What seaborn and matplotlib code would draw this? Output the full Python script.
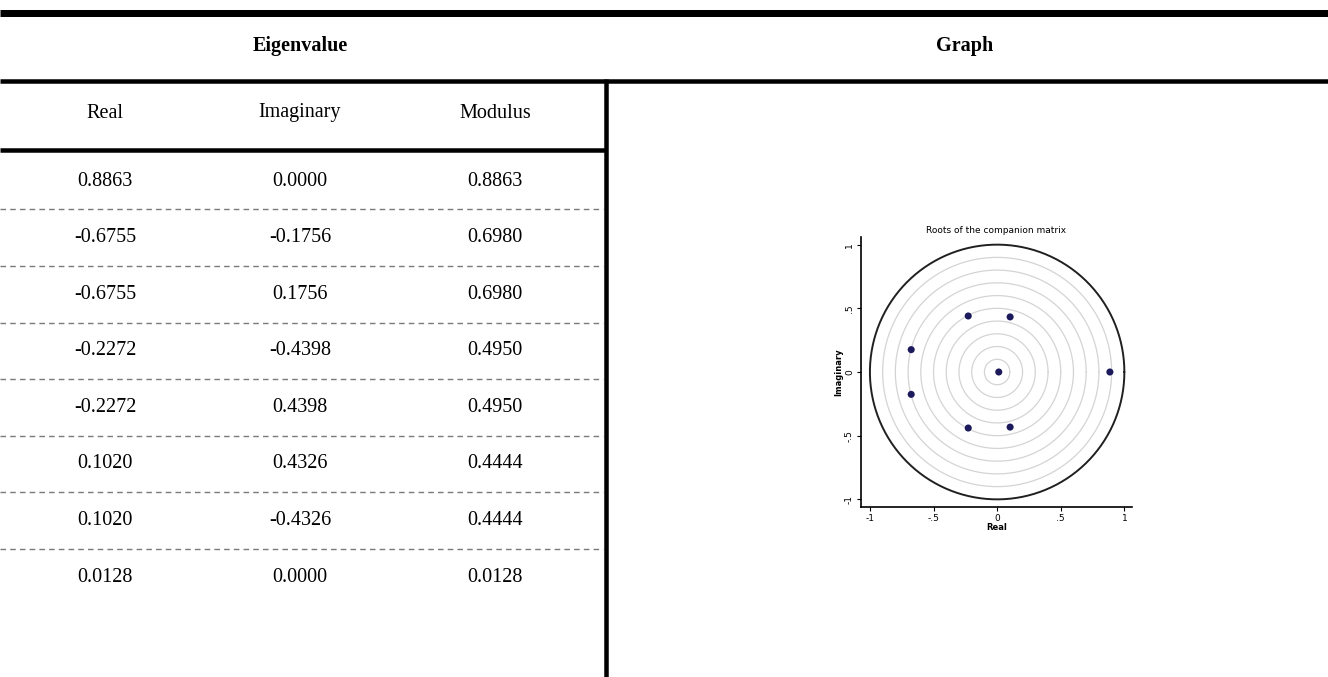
import numpy as np
import pandas as pd
import matplotlib
matplotlib.use("Agg")
import matplotlib.pyplot as plt
import seaborn as sns

# ---------------------------
# Data
# ---------------------------
real_part = [0.8863, -0.6755, -0.6755, -0.2272, -0.2272, 0.1020, 0.1020, 0.0128]
imag_part = [0.0000, -0.1756, 0.1756, -0.4398, 0.4398, 0.4326, -0.4326, 0.0000]
modulus = [0.8863, 0.6980, 0.6980, 0.4950, 0.4950, 0.4444, 0.4444, 0.0128]
col_headers = ["Real", "Imaginary", "Modulus"]
tick_vals = [-1, -0.5, 0, 0.5, 1]
tick_labels = ["-1", "-.5", "0", ".5", "1"]
grid_radii = [0.1, 0.2, 0.3, 0.4, 0.5, 0.6, 0.7, 0.8, 0.9]

df = pd.DataFrame({"Real": real_part, "Imaginary": imag_part, "Modulus": modulus})

sns.set_style("white")
plt.rcParams["font.family"] = ["Liberation Serif", "DejaVu Serif"]
plt.rcParams["text.color"] = "black"
plt.rcParams["axes.labelcolor"] = "black"
plt.rcParams["xtick.color"] = "black"
plt.rcParams["ytick.color"] = "black"

W, H = 1328, 677
fig = plt.figure(figsize=(W / 100, H / 100), dpi=100)

# ---------------------------
# Table layer (pixel coordinates)
# ---------------------------
tab = fig.add_axes([0, 0, 1, 1])
tab.set_xlim(0, W)
tab.set_ylim(H, 0)
tab.axis("off")

px = 0.72  # points per pixel at dpi 100
tab.plot([0, W], [12.5, 12.5], color="black", lw=7 * px, solid_capstyle="butt")
tab.plot([0, W], [81, 81], color="black", lw=4.5 * px, solid_capstyle="butt")
tab.plot([0, 606], [150, 150], color="black", lw=4.5 * px, solid_capstyle="butt")
tab.plot([606, 606], [79, H], color="black", lw=4.5 * px, solid_capstyle="butt")

tab.text(300, 46, "Eigenvalue", ha="center", va="center", fontsize=14.5, fontweight="bold")
tab.text(965, 46, "Graph", ha="center", va="center", fontsize=14.5, fontweight="bold")

col_x = [105, 300, 495]
for x, h in zip(col_x, col_headers):
    tab.text(x, 113, h, ha="center", va="center", fontsize=14.5)

row_y0, row_step = 181, 56.6
for i in range(len(df)):
    y = row_y0 + i * row_step
    for x, c in zip(col_x, col_headers):
        tab.text(x, y, f"{df[c].iloc[i]:.4f}", ha="center", va="center", fontsize=14.5)
    if i < len(df) - 1:
        yd = y + row_step / 2
        tab.plot([0, 603], [yd, yd], color="#7a7a7a", lw=1.0, ls=(0, (4, 3)))

# ---------------------------
# Embedded graph
# ---------------------------
ax = fig.add_axes([861 / W, 1 - 507 / H, 271 / W, 270 / H])
theta = np.linspace(0, 2 * np.pi, 400)
for r in grid_radii:
    ax.plot(r * np.cos(theta), r * np.sin(theta), color="#d4d4d4", lw=0.9, zorder=1)
ax.plot(np.cos(theta), np.sin(theta), color="#202020", lw=1.4, zorder=2)

sns.scatterplot(data=df, x="Real", y="Imaginary", ax=ax, color="#1c1a5c",
                s=26, edgecolor="none", zorder=3, legend=False)

ax.set_xlim(-1.07, 1.06)
ax.set_ylim(-1.06, 1.06)
for s in ["top", "right"]:
    ax.spines[s].set_visible(False)
for s in ["left", "bottom"]:
    ax.spines[s].set_color("black")
    ax.spines[s].set_linewidth(1.2)

sans = ["DejaVu Sans"]
ax.set_xticks(tick_vals)
ax.set_xticklabels(tick_labels, fontsize=6.5, family=sans)
ax.set_yticks(tick_vals)
ax.set_yticklabels(tick_labels, fontsize=6.5, family=sans, rotation=90, va="center")
ax.tick_params(axis="both", length=3, width=0.8, pad=2, bottom=True, left=True)
ax.set_xlabel("Real", fontsize=6, family=sans, labelpad=0, fontweight="bold")
ax.set_ylabel("Imaginary", fontsize=6, family=sans, labelpad=1, fontweight="bold")
ax.set_title("Roots of the companion matrix", fontsize=6.5, family=sans, pad=3)
ax.grid(False)

fig.savefig("out.png", dpi=100)
